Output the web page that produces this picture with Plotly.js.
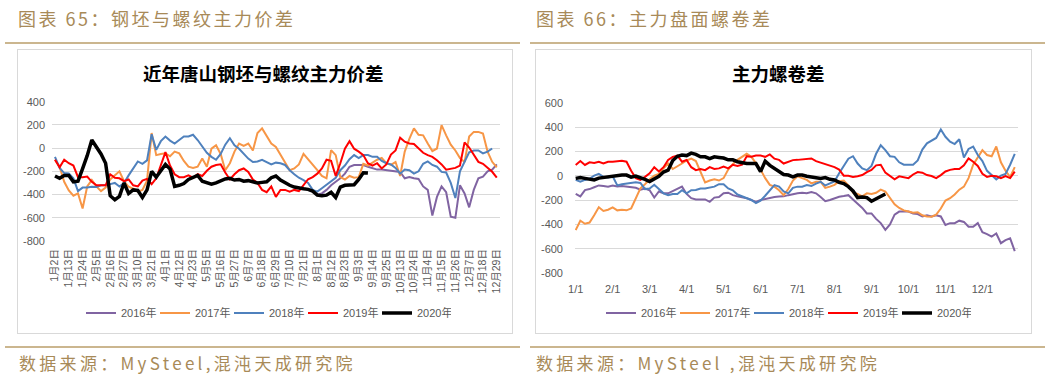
<!DOCTYPE html>
<html><head><meta charset="utf-8">
<script src="https://cdn.plot.ly/plotly-3.0.1.min.js"></script>
<style>
body{margin:0;width:1049px;height:381px;overflow:hidden;background:#fff;position:relative;font-family:"Noto Sans CJK SC",sans-serif;}
.hdr{position:absolute;top:6px;font-size:18px;letter-spacing:2.5px;color:#a88a58;line-height:24px;white-space:nowrap;}
.ftr{position:absolute;top:351px;font-size:17px;letter-spacing:3.3px;color:#a88a58;line-height:24px;white-space:nowrap;}
.rule{position:absolute;height:2px;background:#cbb68f;}
.box{position:absolute;border:1px solid #d9d9d9;box-sizing:border-box;background:#fff;}
#chart{position:absolute;left:0;top:0;width:1049px;height:381px;}
</style></head>
<body>
<div class="hdr" style="left:18px;">图表 65：钢坯与螺纹主力价差</div>
<div class="hdr" style="left:536px;">图表 66：主力盘面螺卷差</div>
<div class="rule" style="left:5px;width:515px;top:42px;"></div>
<div class="rule" style="left:530px;width:515px;top:42px;"></div>
<div class="box" style="left:17px;top:49px;width:496px;height:285px;"></div>
<div class="box" style="left:535px;top:49px;width:497px;height:285px;"></div>
<div class="rule" style="left:5px;width:515px;top:346px;"></div>
<div class="rule" style="left:530px;width:515px;top:346px;"></div>
<div class="ftr" style="left:19px;">数据来源：MySteel,混沌天成研究院</div>
<div class="ftr" style="left:536px;">数据来源：MySteel ,混沌天成研究院</div>
<div id="chart"></div>
<script>
// ---------- Left chart: 钢坯与螺纹主力价差 (3 samples per tick interval) ----------
const leftTickLabels = ["1月2日","1月13日","1月24日","2月5日","2月16日","2月27日","3月10日","3月21日","4月1日","4月12日","4月23日","5月5日","5月16日","5月27日","6月7日","6月18日","6月29日","7月10日","7月21日","8月1日","8月12日","8月23日","9月3日","9月14日","9月25日","10月13日","10月24日","11月4日","11月15日","11月26日","12月7日","12月18日","12月29日"];
const leftYTicks = [400,200,0,-200,-400,-600,-800];

const left2016 = Array(54).fill(null).concat([-345,-360,-375,-400,-390,-360,-320,-290,-260,-220,-160,-146,-146,-146,-160,-170,-185,-185,-190,-200,-200,-205,-260,-250,-260,-265,-330,-360,-580,-420,-330,-380,-590,-600,-320,-390,-510,-360,-260,-245,-200,-185,-140]);
const left2017 = [-100,-160,-290,-365,-410,-390,-520,-330,-275,-330,
 -370,-340,-270,-232,-200,-285,-333,-350,-375,-360,
 -280,130,-60,-50,-45,-70,-30,-45,-110,-160,
 -170,-160,-90,-160,-5,25,-50,-190,-130,-30,
 40,20,40,-20,130,170,110,40,10,-60,
 -118,-190,-175,-140,-50,-95,-140,-190,-240,-260,
 -17,-60,-250,-270,-240,-255,-250,-135,-150,-125,
 -100,-85,-130,-145,-120,-240,-30,80,170,115,
 110,40,-25,-3,198,110,30,-20,-85,-120,
 100,140,140,125,-30,-118,-165];
const left2018 = [-75,-170,-215,-218,-260,-370,-340,-340,-333,-335,
 -320,-320,-310,-300,-330,-300,-235,-175,-115,-135,
 -105,120,-15,60,100,65,40,70,100,100,
 115,70,15,-40,-75,-100,-50,30,85,25,
 -5,-45,-90,-120,-115,-100,-120,-140,-125,-130,
 -145,-190,-225,-255,-275,-300,-360,-375,-345,-315,
 -290,-255,-190,-150,-95,-60,-85,-60,-60,-75,
 -75,-110,-130,-140,-170,-220,-185,-190,-220,-200,
 -135,-115,-145,-160,-205,-210,-300,-430,-200,-120,
 -35,-20,-20,-45,-30,-3];
const left2019 = [-100,-165,-100,-130,-150,-250,-250,-245,-290,-320,
 -320,-320,-225,-255,-260,-285,-270,-320,-330,-280,
 -265,-310,-260,-150,-35,-150,-225,-250,-250,-235,
 -255,-225,-240,-195,-160,-145,-140,-210,-270,-225,
 -190,-175,-205,-270,-300,-360,-380,-330,-420,-360,
 -360,-375,-360,-370,-318,-268,-250,-220,-175,-100,
 -110,-240,-130,-5,60,-5,-30,-60,-130,-150,
 -130,-175,-140,-55,-20,90,55,40,35,-3,
 -40,-60,-75,-105,-140,-185,-175,-170,-150,50,
 5,-60,-118,-135,-170,-204,-255];
const left2020 = [-240,-260,-235,-235,-290,-285,-177,-65,70,5,
 -50,-130,-410,-445,-415,-300,-390,-360,-365,-425,
 -360,-200,-250,-195,-140,-180,-330,-320,-305,-270,
 -255,-235,-285,-300,-310,-300,-280,-265,-260,-275,
 -270,-285,-280,-290,-300,-295,-290,-255,-240,-275,
 -300,-320,-335,-345,-350,-355,-370,-405,-410,-405,
 -380,-425,-335,-320,-318,-315,-270,-212,-215];

// ---------- Right chart: 主力螺卷差 (8 samples per month) ----------
const rightTickLabels = ["1/1","2/1","3/1","4/1","5/1","6/1","7/1","8/1","9/1","10/1","11/1","12/1"];
const rightYTicks = [600,400,200,0,-200,-400,-600,-800];

const right2016 = [-150,-170,-118,-110,-95,-80,-85,-90,-80,-88,
 -85,-90,-90,-100,-115,-105,-120,-180,-130,-145,
 -145,-125,-105,-90,-150,-185,-195,-195,-195,-215,
 -180,-175,-145,-140,-160,-170,-175,-185,-200,-215,
 -200,-190,-185,-175,-172,-170,-160,-150,-145,-140,
 -145,-135,-145,-175,-210,-200,-185,-173,-167,-160,
 -195,-230,-265,-310,-310,-355,-390,-445,-400,-320,
 -295,-295,-295,-310,-315,-335,-325,-335,-325,-335,
 -405,-390,-390,-370,-380,-420,-420,-390,-465,-480,
 -500,-475,-555,-530,-515,-620];
const right2017 = [-447,-370,-395,-385,-325,-260,-290,-280,-260,-285,
 -280,-285,-270,-180,-104,-70,-30,0,15,60,
 100,55,75,100,125,140,120,30,-55,-40,
 -30,-40,-20,50,95,130,155,180,155,100,
 50,-20,-75,-90,-120,-160,-110,-40,-5,-20,
 -35,-63,-50,-50,-100,-90,-75,-45,-40,-80,
 -140,-150,-170,-145,-150,-140,-115,-130,-185,-235,
 -265,-285,-295,-305,-300,-325,-335,-337,-320,-270,
 -205,-185,-155,-115,-90,-20,90,150,210,170,
 160,240,110,40,-10,70];
const right2018 = [-35,-50,-35,-25,0,15,-10,-15,-5,-80,
 -70,-65,-60,-55,-60,-110,-105,-75,-110,-145,
 -160,-150,-150,-120,-145,-120,-118,-105,-105,-100,
 -90,-70,-70,-105,-120,-155,-170,-185,-200,-225,
 -205,-165,-120,-77,-90,-130,-145,-100,-90,-90,
 -77,-85,-65,-50,-80,-65,-48,20,75,140,
 160,100,60,45,80,180,250,210,160,155,
 110,90,90,90,125,215,266,290,310,380,
 320,280,260,300,150,220,240,170,120,40,
 5,-30,0,15,90,180];
const right2019 = [88,120,88,110,105,115,100,115,115,120,
 123,115,40,-20,-35,-10,20,70,35,70,
 130,155,165,115,130,70,45,55,45,70,
 55,60,75,60,90,80,90,160,155,165,
 165,155,175,140,130,100,115,128,130,135,
 142,142,120,107,90,80,70,50,0,0,
 -10,-5,5,30,48,85,90,25,-5,-30,
 -5,-10,-20,10,30,25,5,-3,-20,5,
 35,48,55,55,85,142,115,80,15,-10,
 0,-5,-20,-3,-20,33];
const right2020 = [-22,-15,-22,-30,-35,-20,-15,-12,-5,3,
 5,5,-12,-3,-15,-30,-48,-25,-5,30,
 45,125,160,170,165,185,175,155,155,140,
 155,150,145,130,130,115,105,100,100,100,
 33,120,85,60,40,10,5,-10,5,5,
 -5,-10,-15,-22,-15,-30,-35,-55,-65,-90,
 -125,-180,-175,-180,-210,-190,-170,-150];

const seriesNames = ["2016年","2017年","2018年","2019年","2020年"];
const seriesColors = ["#8064a2","#f79646","#4f81bd","#ff0000","#000000"];
const seriesWidths = [2,2,2,2,3.5];

const W = 1049, H = 381;
const px = v => v / W;
const py = v => 1 - v / H;
const idx = arr => arr.map((_, i) => i);

const leftData = [left2016, left2017, left2018, left2019, left2020];
const rightData = [right2016, right2017, right2018, right2019, right2020];
const traces = [];
leftData.forEach((arr, s) => traces.push({
  x: idx(arr), y: arr, xaxis: 'x', yaxis: 'y', mode: 'lines', name: seriesNames[s],
  line: {color: seriesColors[s], width: seriesWidths[s]}, legend: 'legend', hoverinfo: 'skip', connectgaps: false
}));
rightData.forEach((arr, s) => traces.push({
  x: idx(arr), y: arr, xaxis: 'x2', yaxis: 'y2', mode: 'lines', name: seriesNames[s],
  line: {color: seriesColors[s], width: seriesWidths[s]}, legend: 'legend2', hoverinfo: 'skip', connectgaps: false
}));

const fontFam = 'Liberation Sans, Noto Sans CJK SC, sans-serif';
const yTickText = a => a.map(v => String(v));
const layout = {
  width: W, height: H, margin: {l: 0, r: 0, t: 0, b: 0},
  paper_bgcolor: 'rgba(0,0,0,0)', plot_bgcolor: 'rgba(0,0,0,0)',
  font: {family: fontFam, size: 11, color: '#595959'},
  showlegend: true,
  xaxis: {domain: [px(52), px(500)], range: [-0.65, 96.7], tickmode: 'array',
    tickvals: leftTickLabels.map((_, i) => i * 3), ticktext: leftTickLabels, tickangle: -90,
    showgrid: false, zeroline: false, showline: false, ticks: '', tickfont: {size: 10.5, color: '#595959'},
    ticklabelstandoff: 5, anchor: 'y', fixedrange: true},
  yaxis: {domain: [py(241), py(101.7)], range: [-800, 400], tickmode: 'array',
    tickvals: leftYTicks, ticktext: yTickText(leftYTicks), gridcolor: '#d9d9d9', gridwidth: 1,
    zeroline: false, showline: false, ticks: '', ticklabelstandoff: 6, anchor: 'x', fixedrange: true,
    tickfont: {size: 11, color: '#595959'}},
  xaxis2: {domain: [px(575), px(1018)], range: [-0.15, 95.7], tickmode: 'array',
    tickvals: rightTickLabels.map((_, i) => i * 8), ticktext: rightTickLabels, tickangle: 0,
    showgrid: false, zeroline: false, showline: false, ticks: '', tickfont: {size: 11, color: '#595959'},
    ticklabelstandoff: 8, anchor: 'y2', fixedrange: true},
  yaxis2: {domain: [py(273), py(102.7)], range: [-800, 600], tickmode: 'array',
    tickvals: rightYTicks, ticktext: yTickText(rightYTicks), gridcolor: '#d9d9d9', gridwidth: 1,
    zeroline: false, showline: false, ticks: '', ticklabelstandoff: 11, anchor: 'x2', fixedrange: true,
    tickfont: {size: 11, color: '#595959'}},
  legend: {orientation: 'h', x: px(266), xanchor: 'center', y: py(313), yanchor: 'middle',
    font: {size: 11, color: '#595959'}, bgcolor: 'rgba(0,0,0,0)', entrywidth: 29, traceorder: 'normal'},
  legend2: {orientation: 'h', x: px(786), xanchor: 'center', y: py(313), yanchor: 'middle',
    font: {size: 11, color: '#595959'}, bgcolor: 'rgba(0,0,0,0)', entrywidth: 29, traceorder: 'normal'},
  annotations: [
    {text: '<b>近年唐山钢坯与螺纹主力价差</b>', xref: 'paper', yref: 'paper', x: px(263), y: py(73),
     xanchor: 'center', yanchor: 'middle', showarrow: false,
     font: {family: 'Noto Sans CJK SC', size: 18.5, color: '#000000'}},
    {text: '<b>主力螺卷差</b>', xref: 'paper', yref: 'paper', x: px(778), y: py(73),
     xanchor: 'center', yanchor: 'middle', showarrow: false,
     font: {family: 'Noto Sans CJK SC', size: 18.5, color: '#000000'}}
  ]
};
Plotly.newPlot('chart', traces, layout, {staticPlot: true, displayModeBar: false});
</script>
</body></html>
